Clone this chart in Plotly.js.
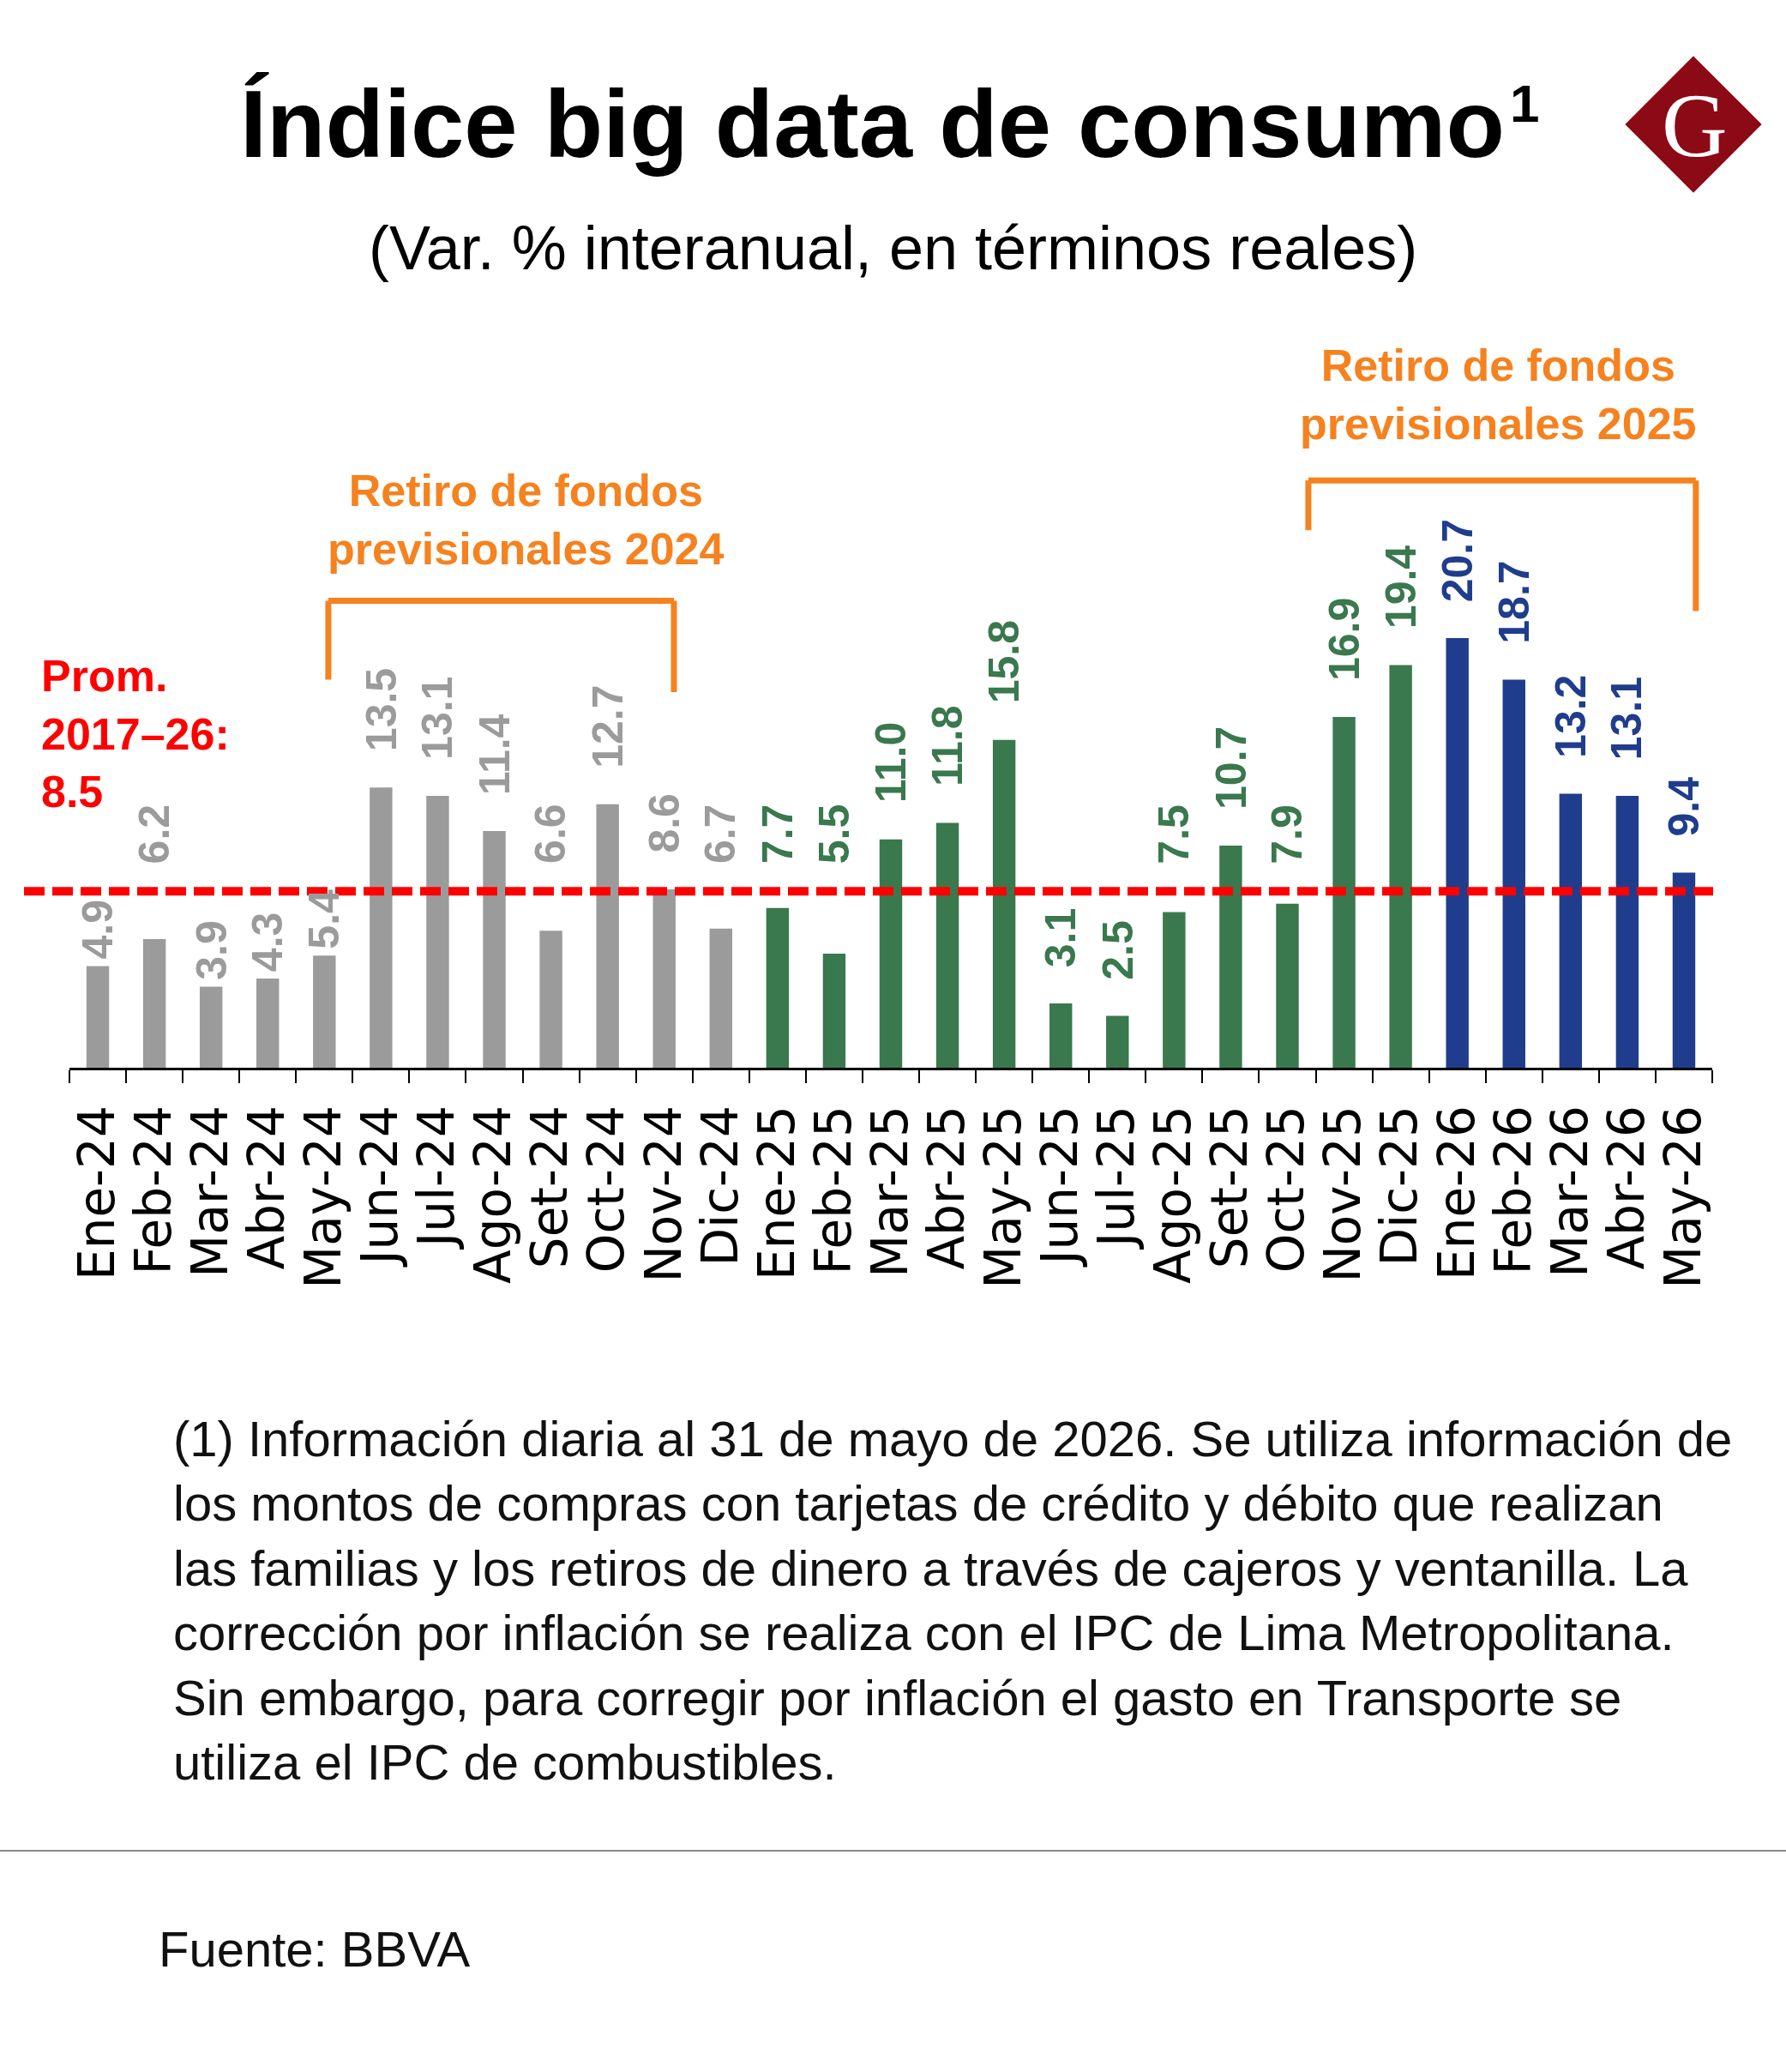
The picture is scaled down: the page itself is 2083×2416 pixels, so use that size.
<!DOCTYPE html>
<html>
<head>
<meta charset="utf-8">
<script src="https://cdn.plot.ly/plotly-3.0.1.min.js"></script>
<style>
  html, body { margin: 0; padding: 0; background: #fff; }
  #chart { width: 2083px; height: 2416px; }
</style>
</head>
<body>
<div id="chart"></div>
<script>
// ---------------- DATA ----------------
const months = [
  'Ene-24','Feb-24','Mar-24','Abr-24','May-24','Jun-24','Jul-24','Ago-24','Set-24','Oct-24','Nov-24','Dic-24',
  'Ene-25','Feb-25','Mar-25','Abr-25','May-25','Jun-25','Jul-25','Ago-25','Set-25','Oct-25','Nov-25','Dic-25',
  'Ene-26','Feb-26','Mar-26','Abr-26','May-26'
];
const values = [
  4.9, 6.2, 3.9, 4.3, 5.4, 13.5, 13.1, 11.4, 6.6, 12.7, 8.6, 6.7,
  7.7, 5.5, 11.0, 11.8, 15.8, 3.1, 2.5, 7.5, 10.7, 7.9, 16.9, 19.4,
  20.7, 18.7, 13.2, 13.1, 9.4
];
const average = 8.5;
const averageLabel = 'Prom.<br>2017–26:<br>8.5';
const retiro2024 = {from: 'May-24', to: 'Nov-24', text: 'Retiro de fondos<br>previsionales 2024'};
const retiro2025 = {from: 'Oct-25', to: 'May-26', text: 'Retiro de fondos<br>previsionales 2025'};
const titleText = 'Índice big data de consumo';
const titleNote = '1';
const subtitleText = '(Var. % interanual, en términos reales)';
const footnoteLines = [
  '(1) Información diaria al 31 de mayo de 2026. Se utiliza información de',
  'los montos de compras con tarjetas de crédito y débito que realizan',
  'las familias y los retiros de dinero a través de cajeros y ventanilla. La',
  'corrección por inflación se realiza con el IPC de Lima Metropolitana.',
  'Sin embargo, para corregir por inflación el gasto en Transporte se',
  'utiliza el IPC de combustibles.'
];
const sourceText = 'Fuente: BBVA';

// ---------------- LAYOUT GEOMETRY ----------------
const W = 2083, H = 2416;
const M = {l: 81, r: 86, t: 370, b: 1171};
const plotW = W - M.l - M.r, plotH = H - M.t - M.b;
const pxPerUnit = 24.2;
const yMax = plotH / pxPerUnit;
const px = x => (x - M.l) / plotW;            // page px -> paper x
const py = y => 1 - (y - M.t) / plotH;        // page px -> paper y

const colorFor = m => m.endsWith('24') ? '#9b9b9b' : (m.endsWith('25') ? '#3a784e' : '#1f3d8c');
const barColors = months.map(colorFor);
const ORANGE = '#f5821f';
const RED = '#ff0000';

// ---------------- TRACE ----------------
const trace = {
  type: 'bar',
  x: months,
  y: values,
  marker: {color: barColors},
  hoverinfo: 'skip'
};

// ---------------- ANNOTATIONS ----------------
const annotations = [];
const valFont = 50;
const defGap = 40;
values.forEach((v, i) => {
  const txt = v.toFixed(1);
  const lenPx = (txt.replace('.', '').length * 0.556 + 0.278) * valFont;
  let y = v, shift = defGap;
  if (v < average) {
    const overlaps = v * pxPerUnit + defGap + lenPx > average * pxPerUnit - 5;
    if (overlaps) {
      if (average - v >= 3.05) { shift = 6; }
      else { y = average; shift = 30; }
    }
  }
  annotations.push({
    x: months[i], y: y, xref: 'x', yref: 'y',
    text: '<b>' + txt + '</b>', showarrow: false, textangle: -90,
    xanchor: 'center', yanchor: 'bottom', yshift: shift,
    font: {family: 'Liberation Sans', size: valFont, color: barColors[i]}
  });
});

// title + superscript
annotations.push({
  xref: 'paper', yref: 'paper', x: px(1017), y: py(144), xanchor: 'center', yanchor: 'middle',
  text: '<b>' + titleText + '</b>', showarrow: false,
  font: {family: 'Liberation Sans', size: 112, color: '#000'}
});
annotations.push({
  xref: 'paper', yref: 'paper', x: px(1778), y: py(120), xanchor: 'center', yanchor: 'middle',
  text: '<b>' + titleNote + '</b>', showarrow: false,
  font: {family: 'Liberation Sans', size: 62, color: '#000'}
});
// subtitle
annotations.push({
  xref: 'paper', yref: 'paper', x: px(1041), y: py(289), xanchor: 'center', yanchor: 'middle',
  text: subtitleText, showarrow: false,
  font: {family: 'Liberation Sans', size: 72, color: '#000'}
});
// logo letter
annotations.push({
  xref: 'paper', yref: 'paper', x: px(1976), y: py(147), xanchor: 'center', yanchor: 'middle',
  text: 'G', showarrow: false,
  font: {family: 'Liberation Serif', size: 106, color: '#fff'}
});
// average label
annotations.push({
  xref: 'paper', yref: 'paper', x: px(46), y: py(855), xanchor: 'left', yanchor: 'middle', align: 'left',
  text: '<b>' + averageLabel + '</b>', showarrow: false,
  font: {family: 'Liberation Sans', size: 52, color: RED}
});
// bracket labels
annotations.push({
  xref: 'paper', yref: 'paper', x: px(613), y: py(606), xanchor: 'center', yanchor: 'middle',
  text: '<b>' + retiro2024.text + '</b>', showarrow: false,
  font: {family: 'Liberation Sans', size: 52, color: ORANGE}
});
annotations.push({
  xref: 'paper', yref: 'paper', x: px(1747), y: py(460), xanchor: 'center', yanchor: 'middle',
  text: '<b>' + retiro2025.text + '</b>', showarrow: false,
  font: {family: 'Liberation Sans', size: 52, color: ORANGE}
});
// footnote
annotations.push({
  xref: 'paper', yref: 'paper', x: px(200), y: py(1866), xanchor: 'left', yanchor: 'middle', align: 'left',
  text: footnoteLines.join('<br>'), showarrow: false,
  font: {family: 'Liberation Sans', size: 58, color: '#111'}
});
// source
annotations.push({
  xref: 'paper', yref: 'paper', x: px(183), y: py(2272), xanchor: 'left', yanchor: 'middle',
  text: sourceText, showarrow: false,
  font: {family: 'Liberation Sans', size: 58, color: '#111'}
});

// ---------------- SHAPES ----------------
const idx = m => months.indexOf(m);
const shapes = [];
// average line
shapes.push({
  type: 'line', xref: 'paper', yref: 'y', x0: px(28), x1: px(1998), y0: average, y1: average,
  line: {color: RED, width: 10, dash: '24px,9px'}, layer: 'above'
});
// bracket helper (x positions as category index offsets)
function bracket(x0, x1, yTop, yL, yR) {
  const ln = {color: ORANGE, width: 7};
  shapes.push({type: 'line', xref: 'x', yref: 'y', x0: x0, x1: x0, y0: yL, y1: yTop, line: ln});
  shapes.push({type: 'line', xref: 'x', yref: 'y', x0: x0, x1: x1, y0: yTop, y1: yTop, line: ln});
  shapes.push({type: 'line', xref: 'x', yref: 'y', x0: x1, x1: x1, y0: yTop, y1: yR, line: ln});
}
bracket(idx(retiro2024.from) + 0.07, idx(retiro2024.to) + 0.17, 22.5, 18.7, 18.1);
bracket(idx(retiro2025.from) + 0.37, idx(retiro2025.to) + 0.21, 28.3, 25.9, 22.0);
// separator line
shapes.push({
  type: 'line', xref: 'paper', yref: 'paper', x0: px(0), x1: px(W), y0: py(2158), y1: py(2158),
  line: {color: '#8a8a8a', width: 2}
});
// logo diamond
const cx = 1975, cy = 145, rr = 74;
shapes.push({
  type: 'path', xref: 'paper', yref: 'paper',
  path: `M ${px(cx)},${py(cy - rr)} L ${px(cx + rr)},${py(cy)} L ${px(cx)},${py(cy + rr)} L ${px(cx - rr)},${py(cy)} Z`,
  fillcolor: '#8b0a16', line: {color: '#8b0a16', width: 8}
});

// ---------------- LAYOUT ----------------
const layout = {
  width: W, height: H,
  margin: M,
  paper_bgcolor: '#fff', plot_bgcolor: '#fff',
  showlegend: false,
  bargap: 0.6,
  font: {family: 'Liberation Sans', color: '#000'},
  xaxis: {
    type: 'category',
    tickmode: 'array', tickvals: months, ticktext: months,
    tickangle: -90,
    ticks: 'outside', tickson: 'boundaries', ticklen: 15, tickwidth: 2, tickcolor: '#000',
    ticklabelstandoff: 18,
    showline: true, linecolor: '#000', linewidth: 3,
    showgrid: false, zeroline: false,
    tickfont: {family: 'DejaVu Sans', size: 58, color: '#000'},
    fixedrange: true
  },
  yaxis: {
    range: [0, yMax], visible: false, showgrid: false, zeroline: false, fixedrange: true
  },
  annotations: annotations,
  shapes: shapes
};

Plotly.newPlot('chart', [trace], layout, {displayModeBar: false, staticPlot: true});
</script>
</body>
</html>
